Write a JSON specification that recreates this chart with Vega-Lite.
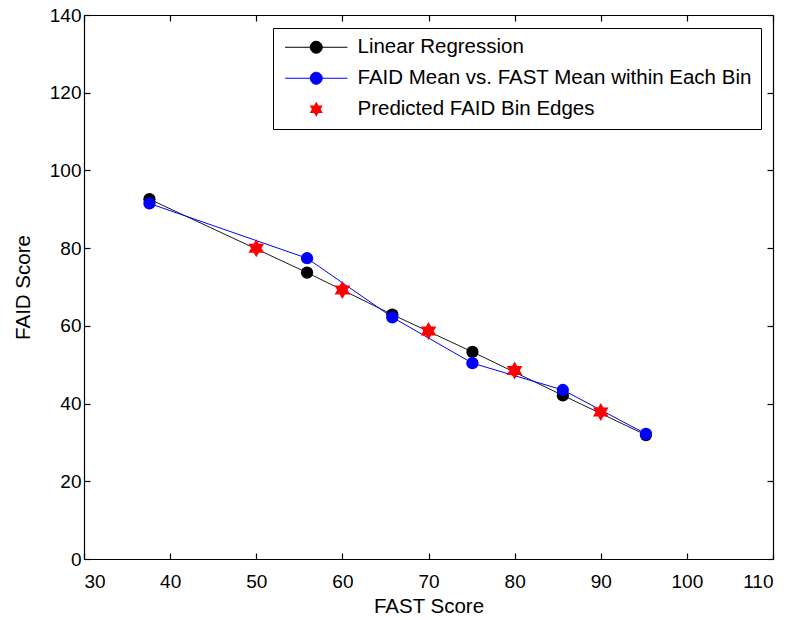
{
  "$schema": "https://vega.github.io/schema/vega-lite/v6.json",
  "autosize": "none",
  "width": 689,
  "height": 544,
  "padding": {"left": 84, "top": 15, "right": 22, "bottom": 61},
  "background": "white",
  "config": {
    "view": {"stroke": null},
    "font": "Liberation Sans",
    "axis": {
      "grid": false,
      "domainColor": "black",
      "domainWidth": 1.2,
      "tickColor": "black",
      "tickWidth": 1.2,
      "tickSize": -6,
      "labelColor": "black",
      "labelFont": "Liberation Sans",
      "labelFontSize": 19,
      "titleFont": "Liberation Sans",
      "titleFontSize": 20.5,
      "titleFontWeight": "normal",
      "titleColor": "black"
    }
  },
  "data": {
    "values": [
      {"series": "Linear Regression", "fast": 37.6, "faid": 92.6},
      {"series": "Linear Regression", "fast": 55.9, "faid": 73.7},
      {"series": "Linear Regression", "fast": 65.8, "faid": 62.9},
      {"series": "Linear Regression", "fast": 75.1, "faid": 53.3},
      {"series": "Linear Regression", "fast": 85.6, "faid": 42.1},
      {"series": "Linear Regression", "fast": 95.25, "faid": 31.9},
      {"series": "FAID Mean vs. FAST Mean within Each Bin", "fast": 37.6, "faid": 91.5},
      {"series": "FAID Mean vs. FAST Mean within Each Bin", "fast": 55.9, "faid": 77.4},
      {"series": "FAID Mean vs. FAST Mean within Each Bin", "fast": 65.8, "faid": 62.2},
      {"series": "FAID Mean vs. FAST Mean within Each Bin", "fast": 75.1, "faid": 50.4},
      {"series": "FAID Mean vs. FAST Mean within Each Bin", "fast": 85.6, "faid": 43.5},
      {"series": "FAID Mean vs. FAST Mean within Each Bin", "fast": 95.25, "faid": 32.2},
      {"series": "Predicted FAID Bin Edges", "fast": 50, "faid": 80.0},
      {"series": "Predicted FAID Bin Edges", "fast": 60, "faid": 69.2},
      {"series": "Predicted FAID Bin Edges", "fast": 70, "faid": 58.7},
      {"series": "Predicted FAID Bin Edges", "fast": 80, "faid": 48.5},
      {"series": "Predicted FAID Bin Edges", "fast": 90, "faid": 37.8}
    ]
  },
  "resolve": {"axis": {"x": "independent", "y": "independent"}},
  "layer": [
    {
      "transform": [{"filter": "datum.series !== 'Predicted FAID Bin Edges'"}],
      "mark": {"type": "line", "strokeWidth": 1},
      "encoding": {
        "x": {"field": "fast", "type": "quantitative", "scale": {"domain": [30, 110], "nice": false, "zero": false},
          "axis": {"orient": "bottom", "values": [30, 40, 50, 60, 70, 80, 90, 100, 110], "title": "FAST Score", "labelPadding": 19, "titlePadding": 5}},
        "y": {"field": "faid", "type": "quantitative", "scale": {"domain": [0, 140], "nice": false, "zero": false},
          "axis": {"orient": "left", "values": [0, 20, 40, 60, 80, 100, 120, 140], "title": "FAID Score", "labelPadding": 9, "titlePadding": 16}},
        "stroke": {"field": "series", "type": "nominal", "legend": null,
          "scale": {"domain": ["Linear Regression", "FAID Mean vs. FAST Mean within Each Bin"], "range": ["#1a1a1a", "#0000ff"]}},
        "detail": {"field": "series"}
      }
    },
    {
      "transform": [{"filter": "datum.series !== 'Predicted FAID Bin Edges'"}],
      "mark": {"type": "point", "filled": true, "opacity": 1, "size": 150},
      "encoding": {
        "x": {"field": "fast", "type": "quantitative",
          "axis": {"orient": "top", "values": [30, 40, 50, 60, 70, 80, 90, 100, 110], "labels": false, "title": null}},
        "y": {"field": "faid", "type": "quantitative",
          "axis": {"orient": "right", "values": [0, 20, 40, 60, 80, 100, 120, 140], "labels": false, "title": null}},
        "fill": {"field": "series", "type": "nominal",
          "scale": {"domain": ["Linear Regression", "FAID Mean vs. FAST Mean within Each Bin", "Predicted FAID Bin Edges"], "range": ["#000000", "#0000ff", "#ff0000"]},
          "legend": {
            "orient": "none",
            "legendX": 189,
            "legendY": 13,
            "title": null,
            "strokeColor": "black",
            "fillColor": "white",
            "padding": 9,
            "labelFont": "Liberation Sans",
            "labelFontSize": 20.5,
            "labelColor": "black",
            "labelLimit": 0,
            "labelOffset": 31,
            "rowPadding": 10,
            "symbolOffset": 24,
            "symbolSize": 144,
            "symbolOpacity": 1,
            "symbolStrokeWidth": 1,
            "symbolType": {"expr": "datum.value === 'Predicted FAID Bin Edges' ? 'M0,-1.25L0.361,-0.625L1.083,-0.625L0.722,0L1.083,0.625L0.361,0.625L0,1.25L-0.361,0.625L-1.083,0.625L-0.722,0L-1.083,-0.625L-0.361,-0.625Z' : 'M-5.2,0L5.2,0M-1,0A1,1 0 1,1 1,0A1,1 0 1,1 -1,0Z'"},
            "symbolStrokeColor": {"expr": "datum.value === 'Predicted FAID Bin Edges' ? 'transparent' : scale('fill', datum.value)"}
          }
        }
      }
    },
    {
      "transform": [{"filter": "datum.series === 'Predicted FAID Bin Edges'"}],
      "mark": {"type": "point", "filled": true, "opacity": 1, "size": 324, "fill": "#ff0000",
        "shape": "M0,-1L0.289,-0.5L0.866,-0.5L0.577,0L0.866,0.5L0.289,0.5L0,1L-0.289,0.5L-0.866,0.5L-0.577,0L-0.866,-0.5L-0.289,-0.5Z"},
      "encoding": {
        "x": {"field": "fast", "type": "quantitative", "axis": null},
        "y": {"field": "faid", "type": "quantitative", "axis": null}
      }
    }
  ]
}
